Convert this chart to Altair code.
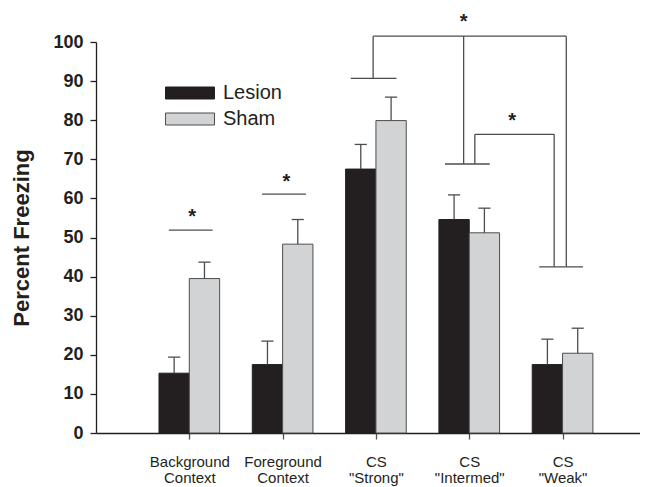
import altair as alt
import pandas as pd

# ---- data ----
categories = ["Background|Context", "Foreground|Context", "CS|\"Strong\"", "CS|\"Intermed\"", "CS|\"Weak\""]
positions = [1, 2, 3, 4, 5]
groups = ["Lesion", "Sham"]
lesion = [15.3, 17.5, 67.5, 54.6, 17.5]
lesion_sem = [4.1, 6.0, 6.3, 6.3, 6.5]
sham = [39.5, 48.3, 79.9, 51.2, 20.4]
sham_sem = [4.2, 6.3, 6.0, 6.3, 6.4]

# significance brackets (x in category units, y in percent)
seg_x = [0.78, 1.78, 2.73, 2.97, 2.97, 5.04, 4.75, 3.94, 3.74, 4.06, 4.06, 4.91]
seg_x2 = [1.25, 2.25, 3.22, 2.97, 5.04, 5.04, 5.22, 3.94, 4.22, 4.06, 4.91, 4.91]
seg_y = [51.9, 61.1, 90.7, 90.7, 101.5, 101.5, 42.5, 101.5, 68.8, 68.8, 76.4, 76.4]
seg_y2 = [51.9, 61.1, 90.7, 101.5, 101.5, 42.5, 42.5, 68.8, 68.8, 76.4, 76.4, 42.5]
star_x = [1.03, 2.04, 3.94, 4.46]
star_y = [56.3, 65.2, 106.1, 80.8]

BAR_W = 0.325
CAP = 0.065

rows = []
for p, lv, ls, sv, ss in zip(positions, lesion, lesion_sem, sham, sham_sem):
    rows.append(dict(pos=p, group="Lesion", value=lv, top=lv + ls,
                     x0=p - BAR_W, x1=p, xc=p - BAR_W / 2))
    rows.append(dict(pos=p, group="Sham", value=sv, top=sv + ss,
                     x0=p, x1=p + BAR_W, xc=p + BAR_W / 2))
bars = pd.DataFrame(rows)
bars["base"] = 0.0
bars["c0"] = bars["xc"] - CAP
bars["c1"] = bars["xc"] + CAP

segs = pd.DataFrame(dict(x=seg_x, x2=seg_x2, y=seg_y, y2=seg_y2))
stars = pd.DataFrame(dict(x=star_x, y=star_y, t=["*"] * len(star_x)))

label_arr = "[" + ",".join(["''"] + ["'" + c + "'" for c in categories]) + "]"

FONT = "Liberation Sans"
INK = "#231f20"
LINE = "#4d4d4d"

xscale = alt.Scale(domain=[0, 5.83], nice=False, zero=False)
yscale = alt.Scale(domain=[0, 100], nice=False)

x_axis = alt.Axis(values=positions, title=None, grid=False, ticks=True, tickSize=6,
                  labelExpr="split(" + label_arr + "[datum.value], '|')",
                  labelFont=FONT, labelFontSize=15, labelColor=INK,
                  labelLineHeight=16, labelBaseline="top", labelPadding=15,
                  labelOverlap=False, labelFlush=False,
                  domainColor=INK, tickColor="#555", domainWidth=1.3, tickWidth=1.3)
y_axis = alt.Axis(values=list(range(0, 101, 10)), title="Percent Freezing", grid=False,
                  tickSize=6, labelFont=FONT, labelFontSize=18, labelFontWeight="bold",
                  labelColor=INK, labelPadding=7, labelOverlap=False,
                  titleFont=FONT, titleFontSize=22, titleFontWeight="bold",
                  titleColor=INK, titlePadding=19,
                  domainColor=INK, tickColor=INK, domainWidth=1.3, tickWidth=1.3)


def X(f):
    return alt.X(f, scale=xscale, axis=x_axis)


def Y(f):
    return alt.Y(f, scale=yscale, axis=y_axis)


base = alt.Chart(bars)

bar_layer = base.mark_bar(strokeWidth=1).encode(
    x=X("x0:Q"), x2="x1:Q",
    y=Y("value:Q"), y2="base:Q",
    color=alt.Color("group:N", scale=alt.Scale(domain=groups, range=[INK, "#d1d3d4"]),
                    legend=alt.Legend(title=None, orient="none", legendX=84, legendY=41,
                                      symbolType="M-4.08,-1H4.08V1H-4.08Z", symbolSize=144,
                                      symbolStrokeColor="#333", symbolStrokeWidth=1,
                                      symbolOpacity=1,
                                      labelFont=FONT, labelFontSize=20, labelColor=INK,
                                      labelOffset=23, rowPadding=6, padding=0)),
    stroke=alt.Stroke("group:N", scale=alt.Scale(domain=groups, range=[INK, LINE]),
                      legend=None),
)

err_layer = base.mark_rule(color=LINE, strokeWidth=1.3).encode(
    x=X("xc:Q"), y=Y("value:Q"), y2="top:Q")
cap_layer = base.mark_rule(color=LINE, strokeWidth=1.3).encode(
    x=X("c0:Q"), x2="c1:Q", y=Y("top:Q"))

seg_layer = alt.Chart(segs).mark_rule(color=LINE, strokeWidth=1.3).encode(
    x=X("x:Q"), x2="x2:Q", y=Y("y:Q"), y2="y2:Q")

star_layer = alt.Chart(stars).mark_text(font=FONT, fontSize=20, fontWeight="bold",
                                        color=INK, baseline="middle", dy=4).encode(
    x=X("x:Q"), y=Y("y:Q"), text="t:N")

chart = alt.layer(bar_layer, err_layer, cap_layer, seg_layer, star_layer).properties(
    width=544, height=391,
    autosize=alt.AutoSizeParams(type="none"),
    padding={"left": 88, "top": 34, "right": 0, "bottom": 54},
    background="white",
).configure_view(stroke=None).configure_axis(grid=False)

chart.save("out.html", embed_options={"renderer": "svg", "actions": False})
